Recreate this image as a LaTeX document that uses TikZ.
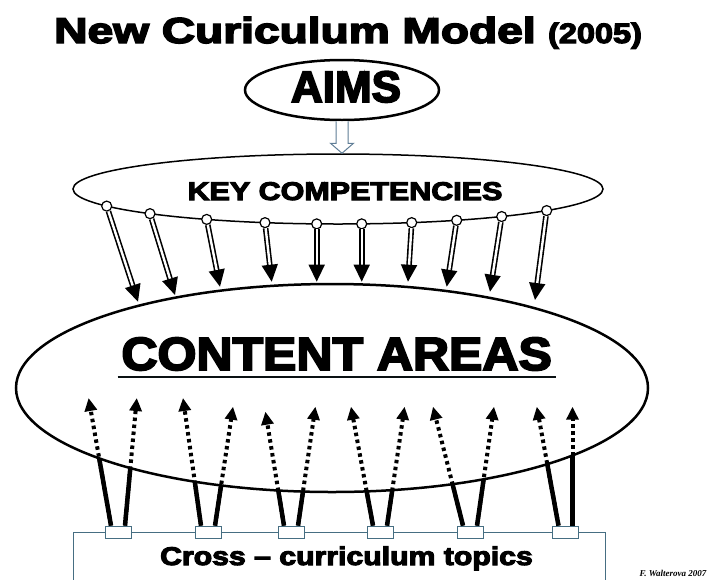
\documentclass[tikz,border=0pt]{standalone}
\usepackage{fontspec}
\usetikzlibrary{arrows.meta,shapes.geometric,calc}

\newfontfamily\heavyfont{Liberation Sans}[UprightFont={* Bold}, FakeBold=4, Ligatures=TeX]
\newfontfamily\signfont{Liberation Serif}[UprightFont={* Bold Italic}]

\definecolor{framegray}{RGB}{70,110,130}
\definecolor{hollowblue}{RGB}{95,125,150}

\begin{document}
\begin{tikzpicture}[x=1pt, y=-1pt,
    oval/.style={draw, ellipse, inner sep=0pt},
    hub/.style={draw, circle, fill=white, line width=1.2pt, minimum size=10pt, inner sep=0pt},
    slot/.style={draw=framegray, fill=white, line width=0.8pt, minimum width=26pt, minimum height=12pt, inner sep=0pt},
    downarrow/.style={double=white, double distance=2.4pt, line width=1.6pt, -{Triangle[length=17pt, width=16pt]}},
    uparrow/.style={line width=4pt, dash pattern=on 3.5pt off 3.5pt, -{Triangle[length=13pt, width=12pt]}},
    stem/.style={line width=4.5pt},
    heavy/.style={anchor=base, font=\heavyfont\fontsize{#1}{#1}\selectfont}]

    \useasboundingbox (0,0) rectangle (712,579);

    % Title
    \node[heavy=36, xscale=1.28] (title) at (295,43) {New Curiculum Model};
    \node[heavy=28, xscale=1.16] (year)  at (595,43) {(2005)};

    % Aims and key competencies
    \node[oval, line width=2.5pt, minimum width=194pt, minimum height=60pt] (aims) at (342,90) {};
    \node[heavy=44] (aimslabel) at (346,102) {AIMS};

    \node[oval, line width=1.5pt, minimum width=530pt, minimum height=70pt] (kc) at (338,189) {};
    \node[heavy=25.6, xscale=1.19] (kclabel) at (345,200) {KEY COMPETENCIES};

    % hollow arrow from aims down to key competencies
    \draw[hollowblue, line width=1pt, fill=white]
        ($(aims.south)+(-6,0)$) -- ($(aims.south |- kc.north)+(-6,-10)$) -- ++(-5.5,0)
        -- (aims.south |- kc.north) -- ++(11.5,-10) -- ++(-5.5,0) -- ($(aims.south)+(6,0)$);

    % Cross-curriculum frame with its slots
    \node[draw=framegray, line width=0.8pt, minimum width=532pt, minimum height=80pt] (topics) at (339,572) {};
    \foreach \sx [count=\i] in {118,208,291,380,470,565.5}
        \node[slot] (s\i) at (\sx,532) {};
    \node[heavy=25.6, xscale=1.18] (topicslabel) at (346.5,565) {Cross -- curriculum topics};

    % start and end points of the upward arrows
    \foreach \s/\dx/\tx/\ty [count=\i] in {1/-7/88.6/398, 1/7/136.8/398, 2/-7/183/398, 2/7/233/406.7,
                                           3/-7/265.4/411.7, 3/7/315.4/406.7, 4/-7/351/406.7, 4/7/404.6/406.7,
                                           5/-7/433/406.7, 5/7/494/406.7, 6/-7/536.8/406.7, 6/7/572.5/406.7} {
        \coordinate (a\i) at ($(s\s.north)+(\dx,0)$);
        \coordinate (u\i) at (\tx,\ty);
    }
    \foreach \i in {1,...,12}
        \draw[stem] (a\i) -- (u\i);

    % Content areas (white fill hides the solid part inside)
    \node[oval, fill=white, line width=2.5pt, minimum width=632pt, minimum height=208pt] (areas) at (332,388) {};
    \node[heavy=46.5, xscale=1.075] (areaslabel) at (336.7,370) {CONTENT AREAS};
    \draw[line width=2pt, black!85!framegray] ($(areaslabel.base west)+(0,7)$) -- ($(areaslabel.base east)+(0,7)$);

    \foreach \i in {1,...,12}
        \draw[uparrow] (a\i) -- (u\i);

    % Competency hubs on the lower rim and their arrows
    \foreach \kx/\tx/\ty [count=\i] in {106.7/138/301.7, 150/175/295, 206.7/220/286.7, 265/271.7/281.7,
                                        316.7/316.7/281.7, 361.7/361.7/281.7, 411.7/408/281.7,
                                        456.7/446.7/286.7, 501.7/490/291.7, 546.7/535/300} {
        \pgfmathsetmacro\ky{189+35*sqrt(1-((\kx-338)/265)^2)}
        \node[hub] (k\i) at (\kx,\ky) {};
        \coordinate (d\i) at (\tx,\ty);
        \draw[downarrow] (k\i) -- (d\i);
    }

    \node[anchor=base east, font=\signfont\fontsize{9}{9}\selectfont] (sign) at (710,576) {F. Walterova 2007};

\end{tikzpicture}
\end{document}
